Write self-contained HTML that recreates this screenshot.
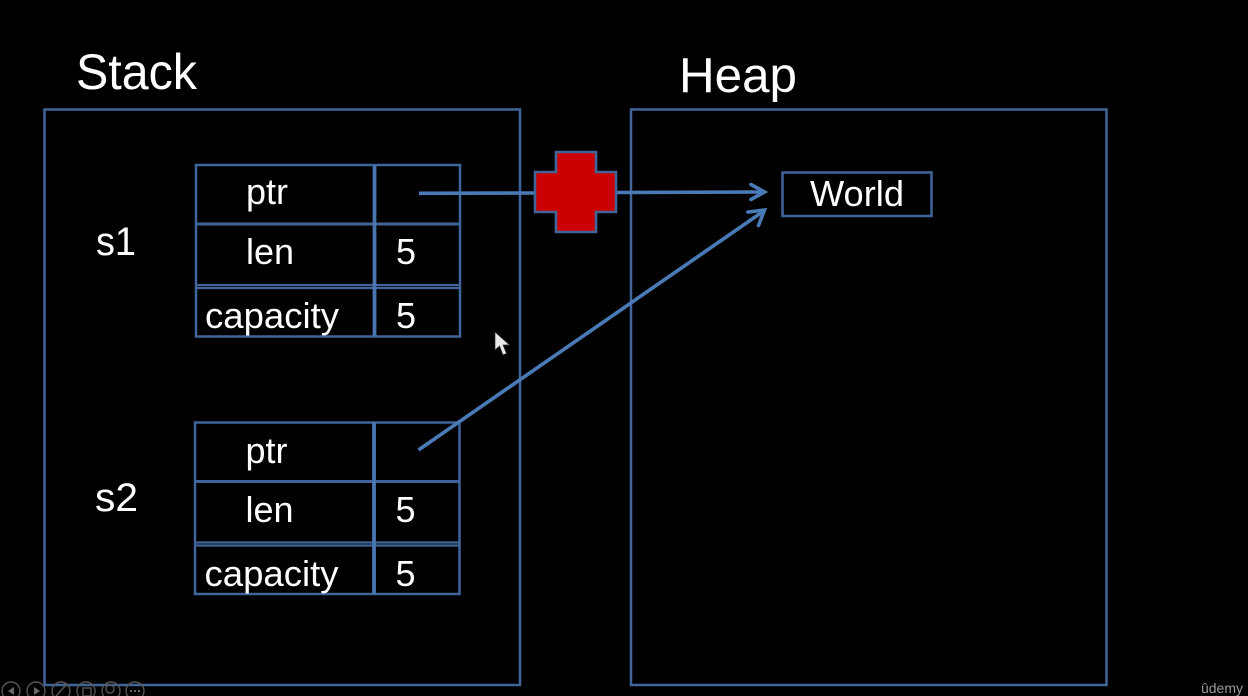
<!DOCTYPE html>
<html>
<head>
<meta charset="utf-8">
<style>
html,body{margin:0;padding:0;background:#000;width:1248px;height:696px;overflow:hidden}
svg{display:block}
text{font-family:"Liberation Sans",sans-serif;fill:#fff}
.box{fill:none;stroke:#41659a;stroke-width:2.5}
.sep{stroke:#41659a;stroke-width:3}
.thick{stroke:#4a76b0;stroke-width:3.8}
.thin{stroke:#41659a;stroke-width:2.2}
.arrow{fill:none;stroke:#4a7ab5;stroke-width:3.6;stroke-linecap:butt}
.head{fill:none;stroke:#4a7ab5;stroke-width:3.6;stroke-linecap:round;stroke-linejoin:miter}
.cell{font-size:36px}
.icon{fill:none;stroke:#555;stroke-width:1.4}
.glyph{fill:#666;stroke:none}
</style>
</head>
<body>
<svg width="1248" height="696" viewBox="0 0 1248 696">
  <rect width="1248" height="696" fill="#000"/>

  <text x="76" y="89" font-size="50" textLength="121" lengthAdjust="spacingAndGlyphs">Stack</text>
  <text x="679" y="92" font-size="49" textLength="118" lengthAdjust="spacingAndGlyphs">Heap</text>

  <rect class="box" x="44.5" y="109.5" width="475.5" height="575.5"/>
  <rect class="box" x="631" y="109.5" width="475.5" height="575.5"/>

  <text x="96" y="255" font-size="40" textLength="40" lengthAdjust="spacingAndGlyphs">s1</text>
  <g>
    <rect class="box" x="196" y="165" width="264" height="171.5"/>
    <line class="sep" x1="196" y1="224" x2="460" y2="224"/>
    <line class="thin" x1="196" y1="285" x2="460" y2="285"/>
    <line class="thin" x1="196" y1="288" x2="460" y2="288"/>
    <line class="thick" x1="374.5" y1="165" x2="374.5" y2="336.5"/>
    <text class="cell" x="246" y="204" textLength="42" lengthAdjust="spacingAndGlyphs">ptr</text>
    <text class="cell" x="246" y="264" textLength="48" lengthAdjust="spacingAndGlyphs">len</text>
    <text class="cell" x="205" y="328" textLength="134" lengthAdjust="spacingAndGlyphs">capacity</text>
    <text class="cell" x="396" y="264">5</text>
    <text class="cell" x="396" y="328">5</text>
  </g>

  <text x="95" y="511" font-size="40" textLength="43" lengthAdjust="spacingAndGlyphs">s2</text>
  <g>
    <rect class="box" x="195" y="422.5" width="264.5" height="171.5"/>
    <line class="sep" x1="195" y1="481.5" x2="459.5" y2="481.5"/>
    <line class="thin" x1="195" y1="542.5" x2="459.5" y2="542.5"/>
    <line class="thin" x1="195" y1="545.5" x2="459.5" y2="545.5"/>
    <line class="thick" x1="374" y1="422.5" x2="374" y2="594"/>
    <text class="cell" x="245.500" y="463" textLength="42" lengthAdjust="spacingAndGlyphs">ptr</text>
    <text class="cell" x="245.500" y="522" textLength="48" lengthAdjust="spacingAndGlyphs">len</text>
    <text class="cell" x="204.500" y="586" textLength="134" lengthAdjust="spacingAndGlyphs">capacity</text>
    <text class="cell" x="395.500" y="522">5</text>
    <text class="cell" x="395.500" y="586">5</text>
  </g>

  <rect class="box" x="782.5" y="172.500" width="149" height="43.500"/>
  <text x="810" y="206" font-size="36" textLength="94" lengthAdjust="spacingAndGlyphs">World</text>

  <g>
    <line class="arrow" x1="419" y1="193.300" x2="536" y2="193"/>
    <line class="arrow" x1="615" y1="192.500" x2="763" y2="192"/>
    <path class="head" d="M751 184.500 L764.500 192 L751 199.500"/>
  </g>
  <g>
    <line class="arrow" x1="418.500" y1="450" x2="763" y2="211.500"/>
    <path class="head" d="M748 212 L764.500 210 L758.500 225.500"/>
  </g>

  <path d="M556 152 H596 V172 H616 V212 H596 V232 H556 V212 H535 V172 H556 Z" fill="#cc0000" stroke="#41659a" stroke-width="2.6"/>

  <path d="M495 332 L495 350 L499.500 346 L503 355 L506.500 353.500 L503 345 L509.500 345 Z" fill="#e8e8e8" stroke="#333" stroke-width="0.7"/>

  <g>
    <circle class="icon" cx="11" cy="691" r="9"/>
    <path class="glyph" d="M8 691 L14 687 V695 Z"/>
    <circle class="icon" cx="36" cy="691" r="9"/>
    <path class="glyph" d="M40 691 L34 687 V695 Z"/>
    <circle class="icon" cx="61" cy="691" r="9"/>
    <line class="icon" x1="56" y1="696" x2="66" y2="685"/>
    <circle class="icon" cx="86" cy="691" r="9"/>
    <rect class="icon" x="83" y="688" width="8" height="8"/>
    <circle class="icon" cx="111" cy="691" r="9"/>
    <circle class="icon" cx="110" cy="689" r="4"/>
    <circle class="icon" cx="135" cy="691" r="9"/>
    <path class="glyph" d="M130 690h2v2h-2zM134 690h2v2h-2zM138 690h2v2h-2z"/>
  </g>

  <text x="1201" y="693" font-size="14" textLength="42" lengthAdjust="spacingAndGlyphs" style="fill:#9a9a9a">ûdemy</text>
</svg>
</body>
</html>
